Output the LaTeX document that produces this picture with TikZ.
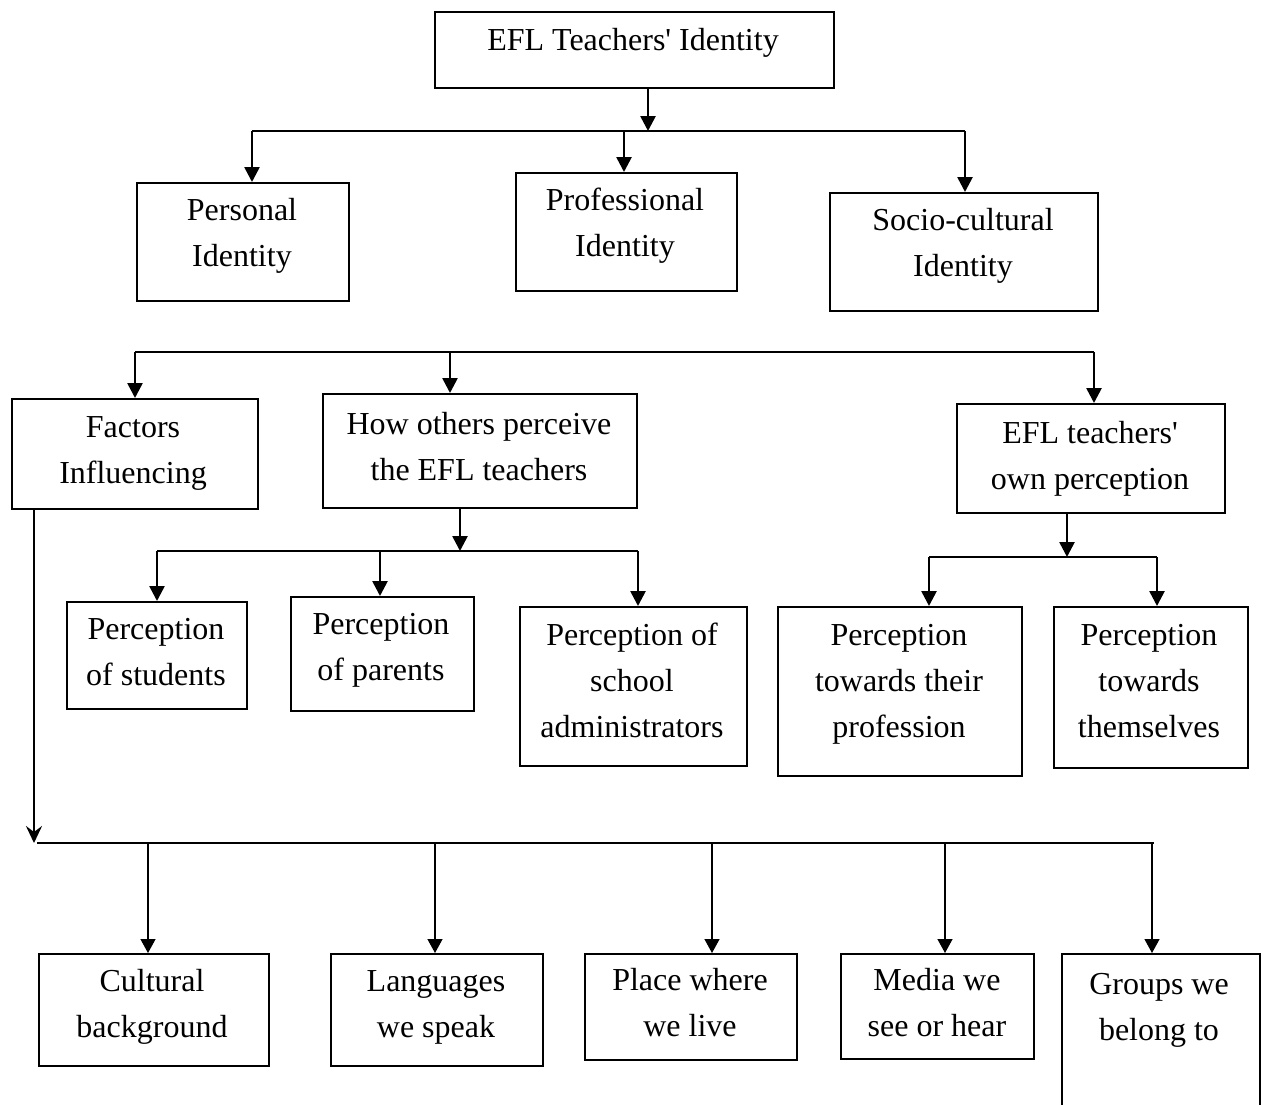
\documentclass[tikz,border=0pt]{standalone}
\usepackage{fontspec}
\setmainfont{Liberation Serif}
\usetikzlibrary{arrows.meta}
\begin{document}
\begin{tikzpicture}[x=1pt,y=-1pt,
  box/.style={draw, line width=2pt, anchor=north west, inner sep=0pt},
  txt/.style={align=center, inner sep=0pt, font=\fontsize{32}{46}\selectfont},
  bus/.style={line width=2.6pt},
  arr/.style={line width=2.6pt, -{Triangle[length=15pt,width=15pt]}},
  thinarr/.style={line width=1.3pt, -{Triangle[length=14pt,width=15pt]}},
  stealtharr/.style={line width=2.8pt, -{Stealth[length=17pt,width=16pt,inset=6pt]}}]
\useasboundingbox (0,0) rectangle (1268,1104);
\fill[white] (0,0) rectangle (1268,1104);

% boxes
\node[box, minimum width=399pt, minimum height=76pt] (top) at (434,11) {};
\node[txt] (topT) at (633,41) {\strut EFL Teachers\textquotesingle{} Identity};

\node[box, minimum width=212pt, minimum height=118pt] (pers) at (136,182) {};
\node[txt] (persT) at (242,234) {\strut Personal\\\strut Identity};
\node[box, minimum width=221pt, minimum height=118pt] (prof) at (515,172) {};
\node[txt] (profT) at (625,224) {\strut Professional\\\strut Identity};
\node[box, minimum width=268pt, minimum height=118pt] (soc) at (829,192) {};
\node[txt] (socT) at (963,244) {\strut Socio-cultural\\\strut Identity};

\node[box, minimum width=246pt, minimum height=110pt] (fac) at (11,398) {};
\node[txt] (facT) at (133,451) {\strut Factors\\\strut Influencing};
\node[box, minimum width=314pt, minimum height=114pt] (how) at (322,393) {};
\node[txt] (howT) at (479,448) {\strut How others perceive\\\strut the EFL teachers};
\node[box, minimum width=268pt, minimum height=109pt] (own) at (956,403) {};
\node[txt] (ownT) at (1090,457) {\strut EFL teachers\textquotesingle\\\strut own perception};

\node[box, minimum width=180pt, minimum height=107pt] (stu) at (66,601) {};
\node[txt] (stuT) at (156,653) {\strut Perception\\\strut of students};
\node[box, minimum width=183pt, minimum height=114pt] (par) at (290,596) {};
\node[txt] (parT) at (381,648) {\strut Perception\\\strut of parents};
\node[box, minimum width=227pt, minimum height=159pt] (adm) at (519,606) {};
\node[txt] (admT) at (632,682) {\strut Perception of\\\strut school\\\strut administrators};

\node[box, minimum width=244pt, minimum height=169pt] (pro) at (777,606) {};
\node[txt] (proT) at (899,682) {\strut Perception\\\strut towards their\\\strut profession};
\node[box, minimum width=194pt, minimum height=161pt] (them) at (1053,606) {};
\node[txt] (themT) at (1149,682) {\strut Perception\\\strut towards\\\strut themselves};

\node[box, minimum width=230pt, minimum height=112pt] (cul) at (38,953) {};
\node[txt] (culT) at (152,1005) {\strut Cultural\\\strut background};
\node[box, minimum width=212pt, minimum height=112pt] (lan) at (330,953) {};
\node[txt] (lanT) at (436,1005) {\strut Languages\\\strut we speak};
\node[box, minimum width=212pt, minimum height=106pt] (pla) at (584,953) {};
\node[txt] (plaT) at (690,1004) {\strut Place where\\\strut we live};
\node[box, minimum width=193pt, minimum height=105pt] (med) at (840,953) {};
\node[txt] (medT) at (937,1004) {\strut Media we\\\strut see or hear};
\node[box, minimum width=198pt, minimum height=200pt] (gro) at (1061,953) {};
\node[txt] (groT) at (1159,1008) {\strut Groups we\\\strut belong to};

% level 1
\coordinate (a0) at (648,131);
\coordinate (a1) at (252,131);
\coordinate (a2) at (624,131);
\coordinate (a3) at (965,131);
\draw[arr] (top.south -| a0) -- (a0);
\draw[bus] (a1) -- (a3);
\draw[arr] (a1) -- (a1 |- pers.north);
\draw[arr] (a2) -- (a2 |- prof.north);
\draw[arr] (a3) -- (a3 |- soc.north);

% level 2
\coordinate (b1) at (135,352);
\coordinate (b2) at (450,352);
\coordinate (b3) at (1094,352);
\draw[bus] (b1) -- (b3);
\draw[arr] (b1) -- (b1 |- fac.north);
\draw[arr] (b2) -- (b2 |- how.north);
\draw[arr] (b3) -- (b3 |- own.north);

% how others
\coordinate (c0) at (460,551);
\coordinate (c1) at (157,551);
\coordinate (c2) at (380,551);
\coordinate (c3) at (638,551);
\draw[arr] (how.south -| c0) -- (c0);
\draw[bus] (c1) -- (c3);
\draw[arr] (c1) -- (c1 |- stu.north);
\draw[arr] (c2) -- (c2 |- par.north);
\draw[arr] (c3) -- (c3 |- adm.north);

% own perception
\coordinate (d0) at (1067,557);
\coordinate (d1) at (929,557);
\coordinate (d2) at (1157,557);
\draw[arr] (own.south -| d0) -- (d0);
\draw[bus] (d1) -- (d2);
\draw[arr] (d1) -- (d1 |- pro.north);
\draw[arr] (d2) -- (d2 |- them.north);

% factors
\coordinate (e0) at (34,843);
\coordinate (eL) at (37,843);
\coordinate (e1) at (148,843);
\coordinate (e2) at (435,843);
\coordinate (e3) at (712,843);
\coordinate (e4) at (945,843);
\coordinate (e5) at (1152,843);
\coordinate (eR) at (1154,843);
\draw[stealtharr] (fac.south -| e0) -- (e0);
\draw[bus] (eL) -- (eR);
\draw[thinarr] (e1) -- (e1 |- cul.north);
\draw[thinarr] (e2) -- (e2 |- lan.north);
\draw[thinarr] (e3) -- (e3 |- pla.north);
\draw[thinarr] (e4) -- (e4 |- med.north);
\draw[thinarr] (e5) -- (e5 |- gro.north);
\end{tikzpicture}
\end{document}
